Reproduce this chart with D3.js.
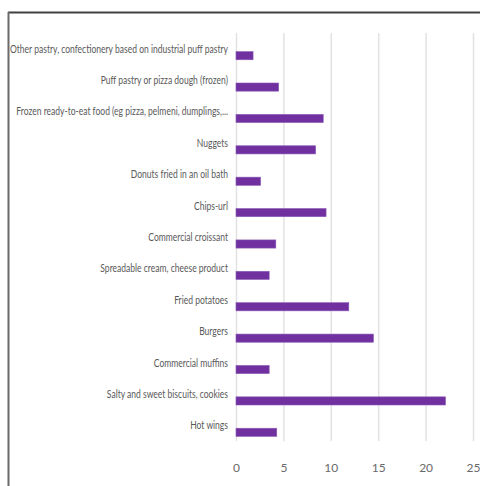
<!DOCTYPE html>
<html>
<head>
<meta charset="utf-8">
<script src="https://cdn.jsdelivr.net/npm/d3@7"></script>
<style>
  body { margin: 0; background: #fff; }
  svg { display: block; }
</style>
</head>
<body>
<div id="chart"></div>
<script>
// categories top to bottom, as in the picture
var categories = [
  'Other pastry, confectionery based on industrial puff pastry',
  'Puff pastry or pizza dough (frozen)',
  'Frozen ready-to-eat food (eg pizza, pelmeni, dumplings,...',
  'Nuggets',
  'Donuts fried in an oil bath',
  'Chips-url',
  'Commercial croissant',
  'Spreadable cream, cheese product',
  'Fried potatoes',
  'Burgers',
  'Commercial muffins',
  'Salty and sweet biscuits, cookies',
  'Hot wings'
];
var values = [1.8, 4.5, 9.2, 8.4, 2.6, 9.5, 4.2, 3.5, 11.9, 14.5, 3.5, 22.1, 4.3];
var xTicks = [0, 5, 10, 15, 20, 25];

var width = 480, height = 486;
var font = 'Lato, "Open Sans", sans-serif';

var svg = d3.select('#chart')
    .append('svg')
    .attr('width', width)
    .attr('height', height);

// frame (top and left edges only)
svg.append('line')
    .attr('x1', 8).attr('x2', width).attr('y1', 12.5).attr('y2', 12.5)
    .attr('stroke', '#404040').attr('stroke-width', 2);
svg.append('line')
    .attr('x1', 8.5).attr('x2', 8.5).attr('y1', 12).attr('y2', height)
    .attr('stroke', '#6b6b6b').attr('stroke-width', 2);

var x = d3.scaleLinear().domain([0, 25]).range([236, 473]);
var y = d3.scaleBand().domain(categories).range([40, 448]).paddingInner(0.74).paddingOuter(0.37);

// gridlines + tick labels
var xAxis = d3.axisBottom(x)
    .tickValues(xTicks)
    .tickSize(-408)
    .tickFormat(d3.format('d'));

var gx = svg.append('g')
    .attr('transform', 'translate(0,441)')
    .call(xAxis);
gx.select('.domain').remove();
gx.selectAll('.tick line').attr('stroke', '#e2e2e2').attr('stroke-width', 1.5);
gx.selectAll('.tick text')
    .attr('y', 22)
    .attr('fill', '#6a6a6a')
    .attr('font-family', font)
    .attr('font-size', 12)
    .attr('transform', function() {
        var t = d3.select(this.parentNode).attr('transform');
        return null;
    })
    .style('font-stretch', 'condensed');

// bars
svg.selectAll('.bar')
    .data(values)
    .enter().append('rect')
    .attr('class', 'bar')
    .attr('x', x(0))
    .attr('y', function(d, i) { return y(categories[i]); })
    .attr('width', function(d) { return x(d) - x(0); })
    .attr('height', y.bandwidth())
    .attr('fill', '#7030a0')
    .attr('stroke', '#8a5ab5')
    .attr('stroke-width', 0.6);

// category labels (condensed like the original Calibri look)
var labels = svg.selectAll('.label')
    .data(categories)
    .enter().append('text')
    .attr('class', 'label')
    .attr('x', 228)
    .attr('y', function(d) { return y(d) + y.bandwidth() / 2 - 7; })
    .attr('dy', '0.35em')
    .attr('text-anchor', 'end')
    .attr('fill', '#595959')
    .attr('font-family', font)
    .attr('font-size', 11.5)
    .text(function(d) { return d; });

var lens = labels.nodes().map(function(n) { return n.getComputedTextLength(); });
var squeeze = 218 / d3.max(lens);
labels.attr('textLength', function(d, i) { return lens[i] * squeeze; })
    .attr('lengthAdjust', 'spacingAndGlyphs');
</script>
</body>
</html>
